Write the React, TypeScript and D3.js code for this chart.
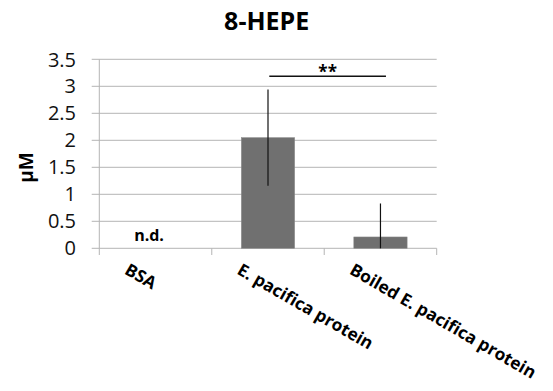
import * as d3 from 'd3';
import { useEffect, useRef } from 'react';

const categories = ['BSA', 'E. pacifica protein', 'Boiled E. pacifica protein'];
const means = [0, 2.05, 0.21];
const errors = [0, 0.89, 0.62];
const notDetected = [true, false, false];
const yTicks = [0, 0.5, 1, 1.5, 2, 2.5, 3, 3.5];
const sigPair = [1, 2];
const sigLevel = 3.185;
const sigLabel = '**';

const WIDTH = 553;
const HEIGHT = 391;
const margin = { left: 99.3, right: 116.3, top: 59.3, bottom: 142.7 };
const FONT = "'Open Sans', 'Liberation Sans', sans-serif";

export default function App() {
    const svgRef = useRef<SVGSVGElement>(null);

    useEffect(() => {
        const svg = d3.select(svgRef.current);
        svg.selectAll('*').remove();

        const innerW = WIDTH - margin.left - margin.right;
        const innerH = HEIGHT - margin.top - margin.bottom;

        const x = d3.scaleBand().domain(categories).range([0, innerW]).paddingInner(0).paddingOuter(0);
        const y = d3.scaleLinear().domain([0, 3.5]).range([innerH, 0]);

        // title
        svg.append('text')
            .attr('x', 266.7).attr('y', 30)
            .attr('text-anchor', 'middle')
            .attr('font-family', FONT).attr('font-weight', 'bold').attr('font-size', 25)
            .text('8-HEPE');

        // y label
        svg.append('text')
            .attr('transform', `translate(33, 167.5) rotate(-90)`)
            .attr('text-anchor', 'middle')
            .attr('font-family', FONT).attr('font-weight', 'bold').attr('font-size', 19)
            .text('µM');

        const g = svg.append('g').attr('transform', `translate(${margin.left}, ${margin.top})`);

        // gridlines + y ticks
        g.selectAll('.grid').data(yTicks).enter().append('line')
            .attr('x1', -7.6).attr('x2', innerW)
            .attr('y1', d => y(d)).attr('y2', d => y(d))
            .attr('stroke', '#b5b5b5').attr('stroke-width', 1);

        g.selectAll('.ylab').data(yTicks).enter().append('text')
            .attr('x', -23.3).attr('y', d => y(d)).attr('dy', '0.36em')
            .attr('text-anchor', 'end')
            .attr('font-family', FONT).attr('font-size', 20).attr('fill', '#111')
            .text(d => String(d));

        // y axis line
        g.append('line')
            .attr('x1', 0).attr('x2', 0).attr('y1', 0).attr('y2', innerH)
            .attr('stroke', '#b5b5b5');

        // category ticks
        const bounds = [...categories.map(c => x(c) as number), innerW];
        g.selectAll('.xtick').data(bounds).enter().append('line')
            .attr('x1', d => d).attr('x2', d => d)
            .attr('y1', innerH).attr('y2', innerH + 6.7)
            .attr('stroke', '#b5b5b5');

        // bars
        const barW = x.bandwidth() * 0.474;
        const cx = (c: string) => (x(c) as number) + x.bandwidth() / 2;
        categories.forEach((c, i) => {
            if (notDetected[i]) {
                g.append('text')
                    .attr('x', cx(c) - 6.5).attr('y', y(0) - 7)
                    .attr('text-anchor', 'middle')
                    .attr('font-family', FONT).attr('font-weight', 'bold').attr('font-size', 16)
                    .text('n.d.');
                return;
            }
            g.append('rect')
                .attr('x', cx(c) - barW / 2).attr('y', y(means[i]))
                .attr('width', barW).attr('height', y(0) - y(means[i]))
                .attr('fill', '#707070').attr('stroke', '#8a8a8a').attr('stroke-width', 0.5);
            g.append('line')
                .attr('x1', cx(c)).attr('x2', cx(c))
                .attr('y1', y(means[i] + errors[i]))
                .attr('y2', y(Math.max(0, means[i] - errors[i])))
                .attr('stroke', '#111').attr('stroke-width', 1.2);
        });

        // significance
        const sx1 = cx(categories[sigPair[0]]) + 1.3;
        const sx2 = cx(categories[sigPair[1]]) + 5.5;
        g.append('line')
            .attr('x1', sx1).attr('x2', sx2).attr('y1', y(sigLevel)).attr('y2', y(sigLevel))
            .attr('stroke', '#111').attr('stroke-width', 1.5);
        g.append('text')
            .attr('x', (sx1 + sx2) / 2).attr('y', y(sigLevel) + 2)
            .attr('text-anchor', 'middle')
            .attr('font-family', FONT).attr('font-weight', 'bold').attr('font-size', 17)
            .text(sigLabel);

        // category labels
        g.selectAll('.xlab').data(categories).enter().append('text')
            .attr('transform', d => `translate(${cx(d) - 32}, ${innerH + 25}) rotate(30)`)
            .attr('text-anchor', 'start')
            .attr('font-family', FONT).attr('font-weight', 'bold').attr('font-size', 17.2)
            .text(d => d);
    }, []);

    return (
        <svg ref={svgRef} width={WIDTH} height={HEIGHT}
            style={{ position: 'absolute', left: 0, top: 0, background: '#fff' }} />
    );
}
